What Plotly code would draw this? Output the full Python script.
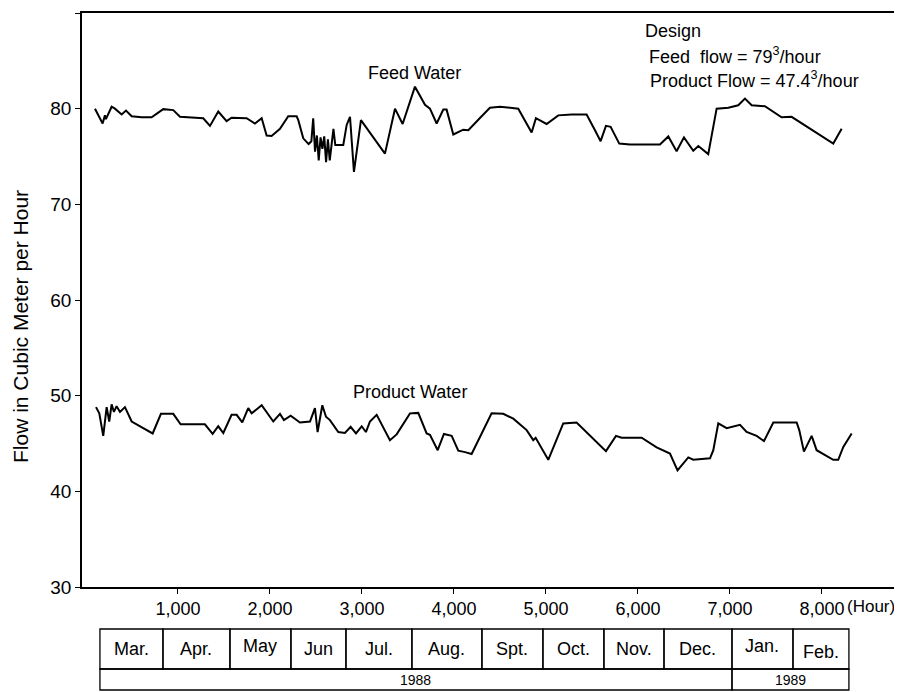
import plotly.graph_objects as go

# hours of operation vs flow (m3/hour)
feed_hours = [98, 181, 206, 217, 279, 315, 388, 435, 497, 605, 714, 840, 949, 1022,
              1275, 1348, 1438, 1529, 1583, 1746, 1837, 1910, 1964, 2018, 2109, 2199,
              2290, 2308, 2362, 2420, 2450, 2470, 2490, 2510, 2530, 2550, 2570, 2590,
              2610, 2630, 2650, 2670, 2690, 2710, 2761, 2797, 2834, 2870, 2913, 2989,
              3250, 3359, 3442, 3576, 3685, 3739, 3812, 3884, 3920, 3993, 4101, 4156,
              4280, 4391, 4500, 4699, 4844, 4891, 5007, 5134, 5279, 5442, 5533, 5594,
              5652, 5703, 5797, 5913, 6239, 6330, 6420, 6500, 6601, 6656, 6764, 6855,
              6982, 7090, 7163, 7236, 7380, 7471, 7561, 7670, 7761, 8123, 8214]
feed_flow = [80.0, 78.45, 79.3, 78.9, 80.2, 80.0, 79.4, 79.8, 79.2, 79.1, 79.1, 79.95, 79.85, 79.15,
             79.0, 78.2, 79.7, 78.7, 79.05, 79.0, 78.45, 79.0, 77.2, 77.15, 77.9, 79.2,
             79.2, 78.8, 76.9, 76.3, 76.6, 79.0, 75.5, 77.2, 74.6, 77.0, 75.8, 77.1,
             74.4, 76.8, 74.6, 76.0, 77.9, 76.2, 76.2, 76.2, 78.3, 79.15, 73.4, 78.8,
             75.3, 80.0, 78.4, 82.3, 80.4, 80.0, 78.45, 79.9, 79.9, 77.3, 77.8, 77.75,
             79.0, 80.1, 80.2, 80.0, 77.5, 79.0, 78.4, 79.3, 79.4, 79.4, 77.75, 76.6,
             78.2, 78.1, 76.35, 76.25, 76.25, 77.1, 75.55, 77.0, 75.6, 76.1, 75.25, 80.0,
             80.1, 80.35, 81.05, 80.35, 80.25, 79.7, 79.1, 79.15, 78.6, 76.35, 77.9]

product_hours = [109, 145, 188, 225, 253, 279, 304, 333, 370, 424, 497, 568, 725, 815,
                 949, 1029, 1293, 1377, 1438, 1493, 1583, 1638, 1699, 1764, 1801, 1910,
                 2036, 2109, 2152, 2225, 2326, 2435, 2489, 2518, 2569, 2609, 2652, 2743,
                 2815, 2877, 2935, 2997, 3043, 3087, 3160, 3304, 3377, 3522, 3612, 3703,
                 3739, 3823, 3891, 3975, 4047, 4120, 4192, 4409, 4536, 4645, 4790, 4862,
                 4888, 5025, 5188, 5333, 5652, 5761, 5822, 6040, 6203, 6348, 6430, 6547,
                 6601, 6783, 6819, 6873, 6964, 7109, 7181, 7290, 7370, 7471, 7725, 7753,
                 7804, 7888, 7942, 8123, 8177, 8232, 8323]
product_flow = [48.8, 48.15, 45.8, 48.8, 47.3, 49.1, 48.3, 48.9, 48.3, 48.8, 47.3, 46.9, 46.05, 48.1,
                48.1, 47.0, 47.0, 46.0, 46.8, 46.1, 48.0, 48.0, 47.2, 48.7, 48.15, 49.0,
                47.3, 48.1, 47.45, 47.9, 47.2, 47.3, 48.7, 46.2, 49.0, 47.8, 47.45, 46.2,
                46.1, 46.75, 46.05, 46.8, 46.2, 47.3, 48.0, 45.35, 45.95, 48.15, 48.2, 46.05,
                45.9, 44.3, 46.0, 45.8, 44.25, 44.1, 43.9, 48.15, 48.1, 47.6, 46.4, 45.35,
                45.6, 43.3, 47.1, 47.2, 44.2, 45.8, 45.6, 45.6, 44.6, 43.95, 42.2, 43.55,
                43.3, 43.45, 44.3, 47.1, 46.6, 46.95, 46.2, 45.8, 45.25, 47.2, 47.2, 46.4,
                44.15, 45.8, 44.3, 43.3, 43.3, 44.65, 46.05]

x_ticks = [1000, 2000, 3000, 4000, 5000, 6000, 7000, 8000]
x_tick_text = ["1,000", "2,000", "3,000", "4,000", "5,000", "6,000", "7,000", "8,000"]

# month strip under the axis (cell edges in hours, as drawn)
months = ["Mar.", "Apr.", "May", "Jun", "Jul.", "Aug.", "Spt.", "Oct.", "Nov.", "Dec.", "Jan.", "Feb."]
month_edges = [152, 837, 1565, 2228, 2826, 3543, 4304, 4967, 5630, 6283, 7022, 7685, 8293]
years = ["1988", "1989"]
year_edges = [152, 7022, 8293]

FONT = "Liberation Sans, Arial, sans-serif"

fig = go.Figure()
fig.add_trace(go.Scatter(x=feed_hours, y=feed_flow, mode="lines",
                         line=dict(color="black", width=2), name="Feed Water"))
fig.add_trace(go.Scatter(x=product_hours, y=product_flow, mode="lines",
                         line=dict(color="black", width=2), name="Product Water"))

row_top, row_mid, row_bot = -0.0732, -0.1429, -0.1794
shapes = []
annotations = []
for i, m in enumerate(months):
    x0, x1 = month_edges[i], month_edges[i + 1]
    shapes.append(dict(type="rect", xref="x", yref="paper", x0=x0, x1=x1, y0=row_mid, y1=row_top,
                       line=dict(color="black", width=1.3)))
    dy = {"May": 3, "Jan.": 3, "Feb.": -3}.get(m, 0)
    annotations.append(dict(x=(x0 + x1) / 2, y=(row_top + row_mid) / 2, xref="x", yref="paper",
                            yanchor="middle", text=m, showarrow=False, yshift=dy,
                            font=dict(size=18)))
for i, yr in enumerate(years):
    x0, x1 = year_edges[i], year_edges[i + 1]
    shapes.append(dict(type="rect", xref="x", yref="paper", x0=x0, x1=x1, y0=row_bot, y1=row_mid,
                       line=dict(color="black", width=1.3)))
    annotations.append(dict(x=(x0 + x1) / 2, y=(row_mid + row_bot) / 2, xref="x", yref="paper",
                            yanchor="middle", text=yr, showarrow=False, font=dict(size=14)))

annotations += [
    dict(x=3576, y=83.7, text="Feed Water", showarrow=False, font=dict(size=18)),
    dict(x=3522, y=50.4, text="Product Water", showarrow=False, font=dict(size=18)),
    dict(x=0.684, y=0.9686, xref="paper", yref="paper", xanchor="left", yanchor="middle",
         text="Design", showarrow=False, font=dict(size=18)),
    dict(x=0.689, y=0.9268, xref="paper", yref="paper", xanchor="left", yanchor="middle",
         text="Feed  flow = 79<sup>3</sup>/hour", showarrow=False, font=dict(size=18)),
    dict(x=0.690, y=0.8833, xref="paper", yref="paper", xanchor="left", yanchor="middle",
         text="Product Flow = 47.4<sup>3</sup>/hour", showarrow=False, font=dict(size=18)),
    dict(x=8000, y=-0.034, xref="x", yref="paper", xanchor="left", yanchor="middle", xshift=23,
         text="(Hour)", showarrow=False, font=dict(size=17)),
    # y-axis title sits a bit below the plot centre in the original
    dict(x=0, y=0.453, xref="paper", yref="paper", xshift=-61, textangle=-90,
         xanchor="center", yanchor="middle", text="Flow in Cubic Meter per Hour",
         showarrow=False, font=dict(size=21)),
]

# page body has an 8px margin, so the figure is 8px smaller each way
fig.update_layout(
    width=894, height=684,
    margin=dict(l=74, r=0, t=5, b=105),
    paper_bgcolor="white", plot_bgcolor="white",
    font=dict(family=FONT, color="black", size=18),
    showlegend=False,
    shapes=shapes,
    annotations=annotations,
    xaxis=dict(range=[-43, 8870], tickvals=x_ticks, ticktext=x_tick_text,
               showgrid=False, zeroline=False, showline=True, linecolor="black", linewidth=1.5,
               mirror=True, ticks="outside", ticklen=5, tickcolor="black",
               tickfont=dict(size=18), automargin=False),
    yaxis=dict(range=[30, 90], dtick=10, showgrid=False, zeroline=False,
               showline=True, linecolor="black", linewidth=1.5,
               ticks="outside", ticklen=5, tickcolor="black", tickfont=dict(size=19),
               automargin=False),
)

fig.write_html("out.html")
